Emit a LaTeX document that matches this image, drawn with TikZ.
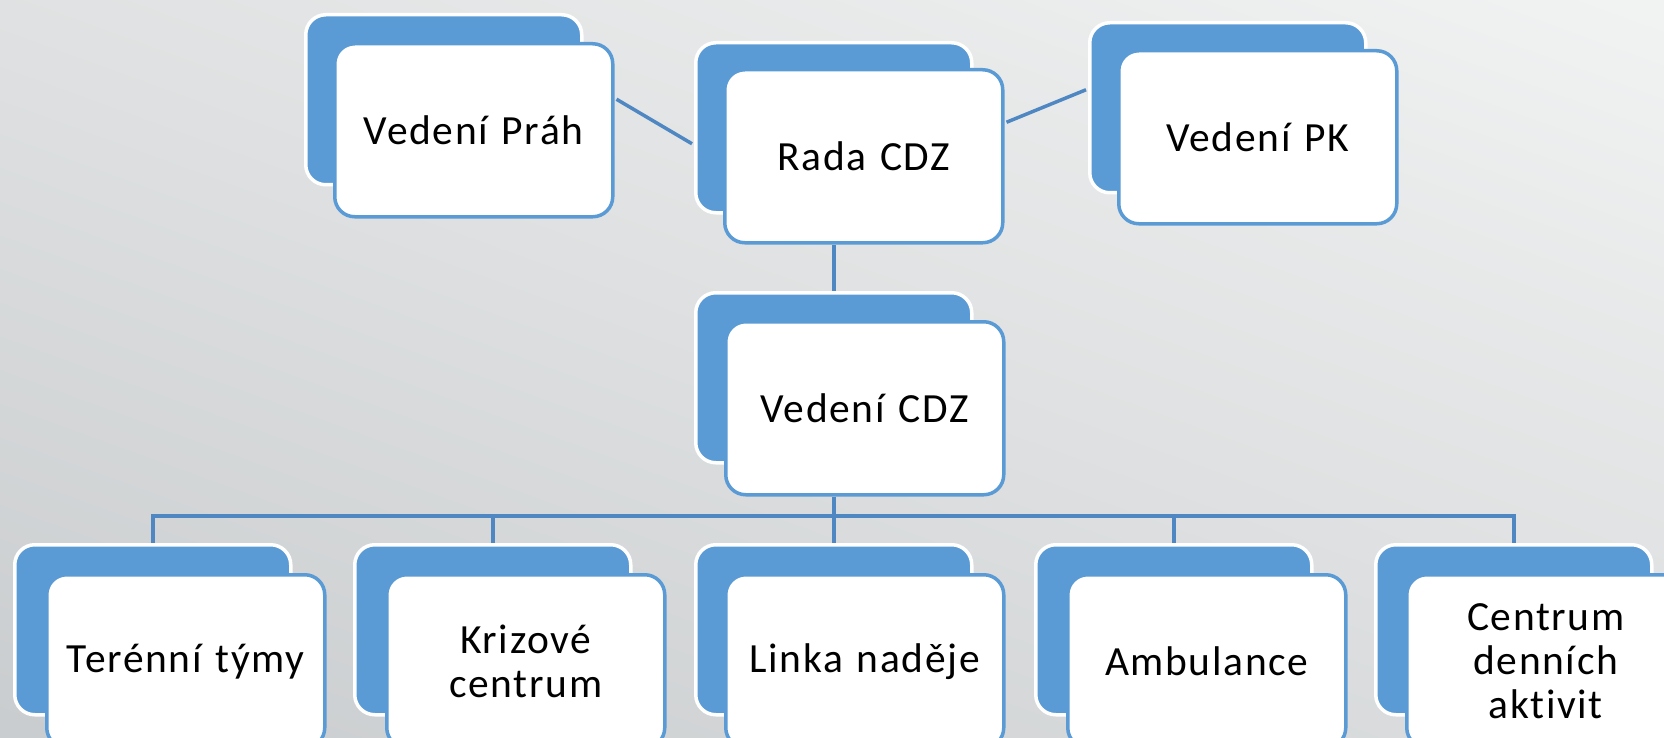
\documentclass[tikz,border=0pt]{standalone}
\usepackage{fontspec}
\setmainfont{Carlito}[LetterSpace=4, Ligatures={NoCommon}]
\usetikzlibrary{calc}
\definecolor{boxblue}{HTML}{5B9BD5}
\definecolor{connblue}{HTML}{4F87C2}
\definecolor{bgtop}{HTML}{F1F2F2}
\definecolor{bgmid}{HTML}{E6E7E8}
\definecolor{bgbot}{HTML}{CACDCF}
\tikzset{
  backbox/.style={rectangle, rounded corners=20pt, fill=boxblue, draw=white,
    line width=3.5pt, minimum width=276pt, minimum height=170pt,
    anchor=north west, inner sep=0pt},
  frontbox/.style={rectangle, rounded corners=20pt, fill=white, draw=boxblue,
    line width=3.5pt, minimum width=278pt, minimum height=173pt,
    anchor=north west, inner sep=0pt, align=center, text width=260pt,
    font=\fontsize{41.5}{44}\selectfont},
  conn/.style={draw=connblue, line width=3.5pt}
}
\begin{document}
\begin{tikzpicture}[x=1pt,y=-1pt]
\useasboundingbox (0,0) rectangle (1664,738);
\clip (0,0) rectangle (1664,738);
\shade[shading=axis, top color=bgtop, middle color=bgmid, bottom color=bgbot,
  shading angle=-20] (-200,-100) rectangle (1864,838);

\coordinate (bus) at (0,516);

% ---- back layer
\node[backbox] (prah-b) at (304,13) {};
\node[backbox] (rada-b) at (694,41) {};
\node[backbox] (pk-b)   at (1088,21) {};
\node[backbox] (cdz-b)  at (694,291) {};
\node[backbox] (t1-b) at (13,543) {};
\node[backbox] (t2-b) at (353,543) {};
\node[backbox] (t3-b) at (694,543) {};
\node[backbox] (t4-b) at (1034,543) {};
\node[backbox] (t5-b) at (1374,543) {};

% ---- front layer
\node[frontbox] (prah) at (333,42) {Vedení Práh};
\node[frontbox] (rada) at (723,68) {Rada CDZ};
\node[frontbox] (pk)   at (1117,49) {Vedení PK};
\node[frontbox] (cdz)  at (724,320) {Vedení CDZ};
\node[frontbox] (t1) at (45,573) {Terénní týmy};
\node[frontbox] (t2) at (385,573) {Krizové\\centrum};
\node[frontbox] (t3) at (724,573) {Linka naděje};
\node[frontbox] (t4) at (1066,573) {Ambulance};
\node[frontbox] (t5) at (1405,573) {Centrum\\denních\\aktivit};

% ---- connectors
\draw[conn] ($(prah.east)+(2,-31)$) -- ($(rada-b.west)+(-2,16)$);
\draw[conn] ($(rada.east)+(2,-34)$) -- ($(pk-b.west)+(-2,-18)$);
\draw[conn] (rada.south -| rada-b.center) -- (cdz-b.north);
\draw[conn] (cdz.south -| cdz-b.center) -- (cdz-b.center |- bus);
\draw[conn] (t1-b.north) -- (t1-b.north |- bus) -- (t5-b.north |- bus) -- (t5-b.north);
\foreach \n in {t2,t3,t4} {
  \draw[conn] (\n-b.north) -- (\n-b.north |- bus);
}
\end{tikzpicture}
\end{document}
